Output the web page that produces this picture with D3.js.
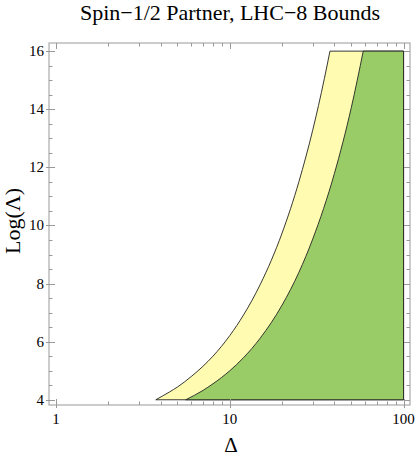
<!DOCTYPE html>
<html><head><meta charset="utf-8">
<script src="https://cdn.jsdelivr.net/npm/d3@7"></script>
<style>body{margin:0;background:#fff;}svg{display:block;}</style>
</head><body>
<svg id="c" width="415" height="458"></svg>
<script>
// Data
const outerBoundary = [
  [3.75,4.00],[4.5,4.27],[5,4.44],[6,4.80],[7,5.15],[8,5.50],[10,6.21],[12,6.92],
  [15,7.98],[20,9.74],[25,11.51],[30,13.28],[35,15.05],[37.7,16.0]
];
const innerBoundary = [
  [5.58,4.00],[7,4.32],[8,4.55],[10,5.00],[12,5.45],[15,6.13],[20,7.26],
  [25,8.39],[30,9.53],[40,11.79],[50,14.05],[58.6,16.0]
];
const xMax = 100, yMin = 4, yMax = 16;
const xMajorTicks = [1,10,100];
const xMinorTicks = [2,3,4,5,6,7,8,9,20,30,40,50,60,70,80,90];
const yMajorTicks = [4,6,8,10,12,14,16];
const yMinorTicks = [4.5,5,5.5,6.5,7,7.5,8.5,9,9.5,10.5,11,11.5,12.5,13,13.5,14.5,15,15.5];
const title = "Spin\u22121/2 Partner, LHC\u22128 Bounds";
const xLabel = "\u0394", yLabel = "Log(\u039B)";
const colors = {yellow:"#fffbb0", green:"#99cc66"};

const L=49,R=410,T=43,B=405;
const svg = d3.select("#c");
const x = d3.scaleLog().domain([0.911,108.9]).range([L,R]);
const y = d3.scaleLinear().domain([3.82,16.28]).range([B,T]);
const font = "'Liberation Serif','Times New Roman',Times,serif";

const line = d3.line().x(d=>x(d[0])).y(d=>y(d[1])).curve(d3.curveMonotoneX);
function region(bound){
  const closing = [[xMax,yMax],[xMax,yMin]];
  return line(bound) + closing.map(p=>"L"+x(p[0])+","+y(p[1])).join("") + "Z";
}
svg.append("path").attr("d",region(outerBoundary)).attr("fill",colors.yellow)
  .attr("stroke","#222").attr("stroke-width",0.9).attr("stroke-linejoin","round");
svg.append("path").attr("d",region(innerBoundary)).attr("fill",colors.green)
  .attr("stroke","#222").attr("stroke-width",0.9).attr("stroke-linejoin","round");

// frame
const tickCol="#999";
svg.append("rect").attr("x",L).attr("y",T).attr("width",R-L).attr("height",B-T)
  .attr("fill","none").attr("stroke",tickCol).attr("stroke-width",1);

const g = svg.append("g").attr("stroke",tickCol).attr("stroke-width",1);
function xt(vals,len){
  vals.forEach(v=>{
    const px=Math.round(x(v))+0.5;
    g.append("line").attr("x1",px).attr("x2",px).attr("y1",B).attr("y2",B-len);
    g.append("line").attr("x1",px).attr("x2",px).attr("y1",T).attr("y2",T+len);
  });
}
function yt(vals,len){
  vals.forEach(v=>{
    const py=Math.round(y(v))+0.5;
    g.append("line").attr("y1",py).attr("y2",py).attr("x1",L).attr("x2",L+len);
    g.append("line").attr("y1",py).attr("y2",py).attr("x1",R).attr("x2",R-len);
  });
}
xt(xMajorTicks,6); xt(xMinorTicks,3.5);
yt(yMajorTicks,6); yt(yMinorTicks,3.5);
yMajorTicks.forEach(v=>{const py=Math.round(y(v))+0.5;
  g.append("line").attr("y1",py).attr("y2",py).attr("x1",L).attr("x2",L-3);});
xMajorTicks.forEach(v=>{const px=Math.round(x(v))+0.5;
  g.append("line").attr("x1",px).attr("x2",px).attr("y1",B).attr("y2",B+3);});

svg.selectAll(".xl").data(xMajorTicks).enter().append("text")
  .attr("x",d=>x(d)).attr("y",B+19).attr("text-anchor","middle")
  .attr("font-family",font).attr("font-size",15).text(d=>d);
svg.selectAll(".yl").data(yMajorTicks).enter().append("text")
  .attr("x",L-5).attr("y",d=>y(d)+5).attr("text-anchor","end")
  .attr("font-family",font).attr("font-size",15).text(d=>d);

svg.append("text").attr("x",230).attr("y",20).attr("text-anchor","middle")
  .attr("font-family",font).attr("font-size",22).text(title);
svg.append("text").attr("x",231).attr("y",452).attr("text-anchor","middle")
  .attr("font-family",font).attr("font-size",21).text(xLabel);
svg.append("text").attr("transform","translate(20,221) rotate(-90)").attr("text-anchor","middle")
  .attr("font-family",font).attr("font-size",22).text(yLabel);
</script>
</body></html>
